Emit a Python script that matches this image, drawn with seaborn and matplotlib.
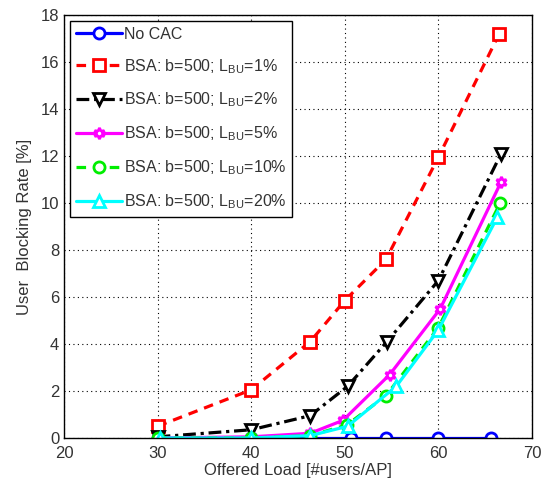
import matplotlib
matplotlib.use("Agg")
import matplotlib.pyplot as plt
import seaborn as sns
import pandas as pd

x_nocac = [30, 40, 46.3, 50.7, 54.4, 60, 65.6]
y_nocac = [0, 0, 0, 0, 0, 0, 0]
x_1 = [30, 40, 46.3, 50, 54.4, 60, 66.5]
y_1 = [0.5, 2.05, 4.1, 5.85, 7.6, 11.95, 17.2]
x_2 = [30, 40, 46.3, 50.3, 54.5, 60, 66.7]
y_2 = [0.05, 0.35, 0.95, 2.2, 4.1, 6.7, 12.1]
x_5 = [30, 40, 46.3, 49.8, 54.8, 60.2, 66.7]
y_5 = [0.0, 0.05, 0.2, 0.75, 2.7, 5.5, 10.9]
x_10 = [30, 40, 46.3, 50.2, 54.4, 60, 66.6]
y_10 = [0.0, 0.0, 0.1, 0.55, 1.8, 4.7, 10.0]
x_20 = [30.3, 40, 46.3, 50.3, 55.5, 60, 66.3]
y_20 = [0.0, 0.0, 0.1, 0.5, 2.2, 4.6, 9.4]

labels = ["No CAC",
          r"BSA: b=500; $\mathregular{L_{BU}}$=1%",
          r"BSA: b=500; $\mathregular{L_{BU}}$=2%",
          r"BSA: b=500; $\mathregular{L_{BU}}$=5%",
          r"BSA: b=500; $\mathregular{L_{BU}}$=10%",
          r"BSA: b=500; $\mathregular{L_{BU}}$=20%"]
xticks = [20, 30, 40, 50, 60, 70]
yticks = [0, 2, 4, 6, 8, 10, 12, 14, 16, 18]

sns.set_style("white")
plt.rcParams['font.family'] = ['Liberation Sans', 'DejaVu Sans']
plt.rcParams['mathtext.fontset'] = 'custom'
plt.rcParams['mathtext.rm'] = 'Liberation Sans'

fig = plt.figure(figsize=(5.49, 4.86), dpi=100)
ax = fig.add_axes([64/549, 1-438/486, (532-64)/549, (438-15)/486])

series = [
    (x_nocac, y_nocac, '#0000ff', '-', 'o'),
    (x_1, y_1, '#ff0000', (0, (3, 2.2)), 's'),
    (x_2, y_2, '#000000', (0, (4, 1.5, 1, 1.5)), 'v'),
    (x_5, y_5, '#ff00ff', '-', (6, 1, 0)),
    (x_10, y_10, '#00ee00', (0, (3, 2.2)), 'o'),
    (x_20, y_20, '#00ffff', '-', '^'),
]
for (xs, ys, c, ls, m), lab in zip(series, labels):
    df = pd.DataFrame({'x': xs, 'y': ys})
    sns.lineplot(data=df, x='x', y='y', ax=ax, color=c, linestyle=ls,
                 linewidth=2.3, marker=m, markersize=8, markerfacecolor='white',
                 markeredgecolor=c, markeredgewidth=2, label=lab, sort=False)

ax.set_xlim(20, 70)
ax.set_ylim(0, 18)
ax.set_xticks(xticks)
ax.set_yticks(yticks)
ax.grid(True, color='black', linestyle=(0, (1, 3)), linewidth=0.8)
for s in ax.spines.values():
    s.set_color('black')
    s.set_linewidth(1)
ax.tick_params(axis='both', labelsize=12, colors='#333333', length=4, direction='in')
ax.tick_params(axis='x', pad=6)
ax.set_xlabel("Offered Load [#users/AP]", fontsize=12, color='#333333', labelpad=1)
ax.set_ylabel("User  Blocking Rate [%]", fontsize=12, color='#333333', labelpad=6)

leg = ax.legend(loc='upper left', bbox_to_anchor=(0.003, 0.997), fontsize=11.5,
                frameon=True, fancybox=False, edgecolor='black', framealpha=1,
                borderpad=0.35, labelspacing=0.95, handlelength=2.9, handletextpad=0.1,
                borderaxespad=0.3)
leg.get_frame().set_linewidth(1)
for t in leg.get_texts():
    t.set_color('#333333')

fig.savefig("out.png", dpi=100)
